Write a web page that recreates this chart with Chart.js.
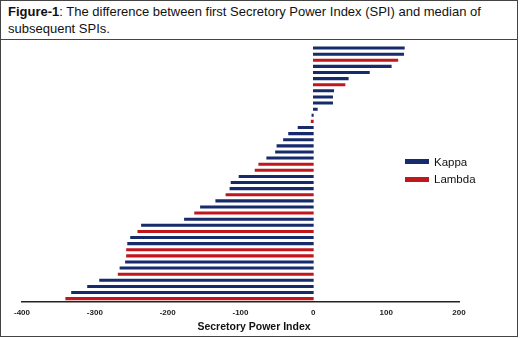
<!DOCTYPE html>
<html>
<head>
<meta charset="utf-8">
<script src="https://cdn.jsdelivr.net/npm/chart.js@4.4.1/dist/chart.umd.min.js"></script>
<style>
  html, body { margin: 0; padding: 0; background: #fff; }
  #wrap { position: relative; width: 520px; height: 338px; overflow: hidden; font-family: Arial, "Liberation Sans", sans-serif; }
  #frame { position: absolute; left: 0; top: 0; width: 518px; height: 337px; box-sizing: border-box; border: 1.5px solid #444; }
  #title { position: absolute; left: 0; top: 0; width: 518px; height: 40px; box-sizing: border-box; border-bottom: 1.5px solid #444;
           padding: 3px 0 0 8px; font-size: 13px; line-height: 17px; color: #111; }
  #title b { font-weight: bold; }
  #chart { position: absolute; left: 0; top: 0; }
  #legend { position: absolute; left: 405px; top: 153px; font-size: 11.5px; color: #111; }
  .li { display: flex; align-items: center; height: 17.5px; }
  .sw { width: 24px; height: 5px; margin-right: 5px; }
  #xtitle { position: absolute; left: 154px; width: 200px; top: 320px; text-align: center; font-size: 10.5px; font-weight: bold; color: #111; }
</style>
</head>
<body>
<div id="wrap">
  <div id="frame"></div>
  <div id="title"><b>Figure-1</b>: The difference between first Secretory Power Index (SPI) and median of subsequent SPIs.</div>
  <canvas id="chart" width="520" height="338"></canvas>
  <div id="legend"></div>
  <div id="xtitle"></div>
</div>
<script>
// Each row, top to bottom: series it belongs to and its value
const categories = [];
for (let i = 1; i <= 42; i++) categories.push('Patient ' + i);

const seriesOfRow = ['K','K','L','K','K','K','L','K','K','K','K','K','L','K','K','K','K','K','K','L','L',
                     'K','K','K','L','K','K','L','K','K','L','K','K','L','L','K','K','L','K','K','K','L'];
const rowValues = [125, 124, 116, 107, 77, 48, 43.5, 28, 26.5, 26.5, 5.5, -2, -3, -21, -34, -41, -50, -52, -64, -75, -80,
                   -102, -113, -114.5, -120, -134, -155, -163, -177, -236, -241, -251, -255, -256.5, -256.5, -258, -265.5, -268, -293.5, -310, -332, -340];

const kappaValues = rowValues.map((v, i) => seriesOfRow[i] === 'K' ? v : null);
const lambdaValues = rowValues.map((v, i) => seriesOfRow[i] === 'L' ? v : null);

const xTicks = [-400, -300, -200, -100, 0, 100, 200];
const xAxisTitle = 'Secretory Power Index';
const seriesNames = ['Kappa', 'Lambda'];
const seriesColors = ['#172a6b', '#c0161c'];

const chart = new Chart(document.getElementById('chart'), {
  type: 'bar',
  data: {
    labels: categories,
    datasets: [
      { label: seriesNames[0], data: kappaValues, backgroundColor: seriesColors[0], barThickness: 2.4, grouped: false, borderWidth: 0 },
      { label: seriesNames[1], data: lambdaValues, backgroundColor: seriesColors[1], barThickness: 2.4, grouped: false, borderWidth: 0 }
    ]
  },
  options: {
    indexAxis: 'y',
    responsive: false,
    animation: false,
    events: [],
    layout: { padding: { left: 22, right: 61, top: 45, bottom: 0 } },
    plugins: { legend: { display: false }, tooltip: { enabled: false } },
    scales: {
      y: { display: false },
      x: {
        min: -400, max: 200,
        afterBuildTicks: (s) => { s.ticks = xTicks.map(v => ({ value: v })); },
        afterFit: (s) => { s.height = 36.3; },
        grid: { display: false, drawTicks: false },
        border: { display: true, color: '#222', width: 1.5 },
        ticks: { padding: 6, color: '#222', font: { family: 'Arial, "Liberation Sans", sans-serif', size: 8, weight: 'bold' }, maxRotation: 0 },
        title: { display: false }
      }
    }
  }
});

document.getElementById('xtitle').textContent = xAxisTitle;
const lg = document.getElementById('legend');
chart.data.datasets.forEach(ds => {
  const row = document.createElement('div');
  row.className = 'li';
  row.innerHTML = '<div class="sw" style="background:' + ds.backgroundColor + '"></div><span>' + ds.label + '</span>';
  lg.appendChild(row);
});
</script>
</body>
</html>
